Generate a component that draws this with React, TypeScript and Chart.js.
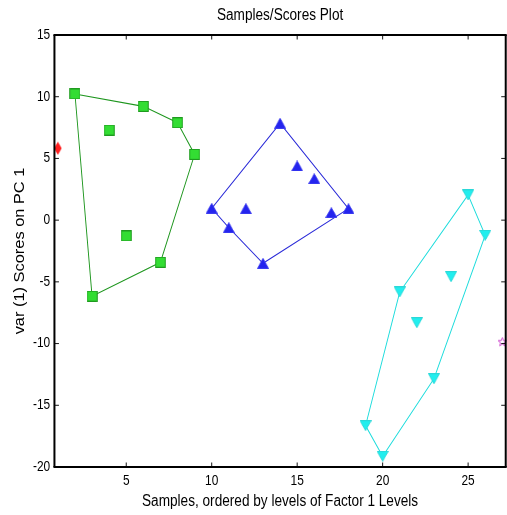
import React, { useEffect, useRef } from 'react';
import { Chart, registerables } from 'chart.js';

Chart.register(...registerables);

// The chart is laid out in a wider logical space and drawn squeezed
// horizontally onto the 507px canvas.
const LOGICAL_W = 596;
const OUT_W = 507;
const OUT_H = 515;
const SQUEEZE = OUT_W / LOGICAL_W;

// Scores on PC 1 per sample, grouped by class
const outlierX = [1];
const outlierY = [5.82];
const class1X = [2, 3, 4, 5, 6, 7, 8, 9];
const class1Y = [10.22, -6.16, 7.3, -1.28, 9.22, -3.41, 7.89, 5.33];
const class2X = [10, 11, 12, 13, 14, 15, 16, 17, 18];
const class2Y = [0.96, -0.61, 0.93, -3.5, 7.85, 4.39, 3.36, 0.61, 0.93];
const class3X = [19, 20, 21, 22, 23, 24, 25, 26];
const class3Y = [-16.65, -19.13, -5.82, -8.31, -12.85, -4.58, 2.04, -1.23];
const unknownX = [27];
const unknownY = [-9.85];

// Enclosing polygons, listed as sample numbers (closed)
const class1Hull = [2, 6, 8, 9, 7, 3, 2];
const class2Hull = [10, 14, 18, 13, 11, 10];
const class3Hull = [25, 26, 23, 20, 19, 21, 25];

const xTicks = [5, 10, 15, 20, 25];
const yTicks = [-20, -15, -10, -5, 0, 5, 10, 15];

const TITLE = 'Samples/Scores Plot';
const X_TITLE = 'Samples, ordered by levels of Factor 1 Levels';
const Y_TITLE = 'var (1) Scores on PC 1';

const FONT = 'Liberation Sans, Arial, sans-serif';

const toPoints = (xs: number[], ys: number[]) => xs.map((x, i) => ({ x, y: ys[i] }));
const hullPoints = (hull: number[], xs: number[], ys: number[]) =>
  hull.map((n) => {
    const i = xs.indexOf(n);
    return { x: xs[i], y: ys[i] };
  });

function makeMarker(w: number, h: number, draw: (c: CanvasRenderingContext2D) => void) {
  const cv = document.createElement('canvas');
  cv.width = w;
  cv.height = h;
  const c = cv.getContext('2d')!;
  draw(c);
  return cv;
}

// Applies the horizontal squeeze before every draw.
const squeezePlugin = {
  id: 'squeeze',
  beforeDraw(chart: any) {
    const cv = chart.canvas as HTMLCanvasElement;
    if (cv.width !== OUT_W) cv.width = OUT_W;
    if (cv.height !== OUT_H) cv.height = OUT_H;
    const ctx = chart.ctx as CanvasRenderingContext2D;
    ctx.setTransform(SQUEEZE, 0, 0, 1, 0, 0);
    ctx.save();
    ctx.fillStyle = '#fff';
    ctx.fillRect(0, 0, LOGICAL_W, OUT_H);
    ctx.restore();
  },
};

// Box frame with inward tick marks on all four sides.
const framePlugin = {
  id: 'boxFrame',
  afterDatasetsDraw(chart: any) {
    const { ctx, chartArea: a, scales } = chart;
    const tickLenX = 4.5 / SQUEEZE;
    const tickLenY = 4.5;
    ctx.save();
    ctx.strokeStyle = '#000';
    ctx.lineWidth = 1;
    ctx.beginPath();
    scales.x.ticks.forEach((t: any) => {
      const p = scales.x.getPixelForValue(t.value);
      ctx.moveTo(p, a.bottom);
      ctx.lineTo(p, a.bottom - tickLenY);
      ctx.moveTo(p, a.top);
      ctx.lineTo(p, a.top + tickLenY);
    });
    ctx.stroke();
    ctx.beginPath();
    scales.y.ticks.forEach((t: any) => {
      const p = scales.y.getPixelForValue(t.value);
      ctx.moveTo(a.left, p);
      ctx.lineTo(a.left + tickLenX, p);
      ctx.moveTo(a.right, p);
      ctx.lineTo(a.right - tickLenX, p);
    });
    ctx.stroke();
    // horizontal edges
    ctx.lineWidth = 2;
    ctx.beginPath();
    ctx.moveTo(a.left - 1 / SQUEEZE, a.top);
    ctx.lineTo(a.right + 1 / SQUEEZE, a.top);
    ctx.moveTo(a.left - 1 / SQUEEZE, a.bottom);
    ctx.lineTo(a.right + 1 / SQUEEZE, a.bottom);
    ctx.stroke();
    // vertical edges, widened to stay 2px after the squeeze
    ctx.lineWidth = 2 / SQUEEZE;
    ctx.beginPath();
    ctx.moveTo(a.left, a.top);
    ctx.lineTo(a.left, a.bottom);
    ctx.moveTo(a.right, a.top);
    ctx.lineTo(a.right, a.bottom);
    ctx.stroke();
    ctx.restore();
  },
};

export default function App() {
  const ref = useRef<HTMLCanvasElement>(null);

  useEffect(() => {
    const square = makeMarker(13, 11, (c) => {
      c.fillStyle = '#33dd33';
      c.strokeStyle = '#1f9a1f';
      c.lineWidth = 1;
      c.fillRect(0.75, 0.5, 11.5, 10);
      c.strokeRect(0.75, 0.5, 11.5, 10);
    });
    const triUp = makeMarker(14, 11, (c) => {
      c.fillStyle = '#2424ee';
      c.strokeStyle = '#3c3cf0';
      c.lineWidth = 1;
      c.beginPath();
      c.moveTo(7, 0.5);
      c.lineTo(13.5, 10.5);
      c.lineTo(0.5, 10.5);
      c.closePath();
      c.fill();
      c.stroke();
    });
    const triDown = makeMarker(14, 11, (c) => {
      c.fillStyle = '#22eeee';
      c.strokeStyle = '#2ad8d8';
      c.lineWidth = 1;
      c.beginPath();
      c.moveTo(0.5, 0.5);
      c.lineTo(13.5, 0.5);
      c.lineTo(7, 10.5);
      c.closePath();
      c.fill();
      c.stroke();
    });
    const diamond = makeMarker(10, 14, (c) => {
      c.fillStyle = '#ff2020';
      c.beginPath();
      c.moveTo(5, 0.5);
      c.lineTo(9.5, 7);
      c.lineTo(5, 13.5);
      c.lineTo(0.5, 7);
      c.closePath();
      c.fill();
    });
    const star = makeMarker(11, 10, (c) => {
      c.strokeStyle = '#cc44cc';
      c.lineWidth = 1;
      c.beginPath();
      const cx = 5.5, cy = 5.3, ro = 4.6, ri = 1.9;
      for (let k = 0; k < 10; k++) {
        const r = k % 2 === 0 ? ro : ri;
        const ang = -Math.PI / 2 + (k * Math.PI) / 5;
        const px = cx + r * Math.cos(ang) * 1.15;
        const py = cy + r * Math.sin(ang);
        if (k === 0) c.moveTo(px, py);
        else c.lineTo(px, py);
      }
      c.closePath();
      c.stroke();
    });

    // Markers are images; a tiny radius keeps Chart.js from reserving
    // overflow padding around the plot area.
    const markerSet = (data: any[], style: any) => ({
      type: 'scatter' as const,
      data,
      pointStyle: style,
      pointRadius: 0.5,
      pointHoverRadius: 0.5,
      pointBorderWidth: 0,
      showLine: false,
      clip: false,
      order: 0,
    });
    const hullSet = (data: any[], color: string) => ({
      type: 'scatter' as const,
      data,
      showLine: true,
      borderColor: color,
      borderWidth: 1.1,
      pointRadius: 0,
      pointHoverRadius: 0,
      pointBorderWidth: 0,
      order: 1,
    });

    const chart = new Chart(ref.current!, {
      type: 'scatter',
      data: {
        datasets: [
          markerSet(toPoints(outlierX, outlierY), diamond),
          markerSet(toPoints(class1X, class1Y), square),
          markerSet(toPoints(class2X, class2Y), triUp),
          markerSet(toPoints(class3X, class3Y), triDown),
          markerSet(toPoints(unknownX, unknownY), star),
          hullSet(hullPoints(class1Hull, class1X, class1Y), '#1e961e'),
          hullSet(hullPoints(class2Hull, class2X, class2Y), '#2a2ad8'),
          hullSet(hullPoints(class3Hull, class3X, class3Y), '#1cdcdc'),
        ] as any,
      },
      options: {
        animation: false,
        responsive: false,
        events: [],
        layout: { padding: { left: 0, right: 1.5, top: 0, bottom: 0 } },
        plugins: {
          legend: { display: false },
          tooltip: { enabled: false },
          title: {
            display: true,
            text: TITLE,
            fullSize: false,
            color: '#000',
            font: { family: FONT, size: 16, weight: 'normal' },
            padding: { top: 6.4, bottom: 9.4 },
          },
        },
        scales: {
          x: {
            type: 'linear',
            min: 0.8,
            max: 27.2,
            afterFit: (s: any) => {
              s.height = 48;
              s.paddingLeft = 0;
              s.paddingRight = 0;
            },
            afterBuildTicks: (s: any) => {
              s.ticks = xTicks.map((v) => ({ value: v }));
            },
            grid: { display: false, drawTicks: false },
            border: { display: false },
            ticks: {
              color: '#000',
              padding: 6,
              maxRotation: 0,
              font: { family: FONT, size: 14 },
            },
            title: {
              display: true,
              text: X_TITLE,
              color: '#000',
              font: { family: FONT, size: 16 },
              padding: { top: 0, bottom: 3.8 },
            },
          },
          y: {
            type: 'linear',
            min: -20,
            max: 15,
            afterFit: (s: any) => {
              s.width = 64;
              s.paddingTop = 0;
              s.paddingBottom = 0;
            },
            afterBuildTicks: (s: any) => {
              s.ticks = yTicks.map((v) => ({ value: v }));
            },
            grid: { display: false, drawTicks: false },
            border: { display: false },
            ticks: {
              color: '#000',
              padding: 5,
              font: { family: FONT, size: 14 },
            },
            title: {
              display: true,
              text: Y_TITLE,
              color: '#000',
              font: { family: FONT, size: 16.4 },
              padding: { top: 13.5, bottom: 0 },
            },
          },
        },
      },
      plugins: [squeezePlugin, framePlugin],
    });
    return () => chart.destroy();
  }, []);

  return (
    <div style={{ position: 'absolute', left: 0, top: 0, width: OUT_W, height: OUT_H, background: '#fff' }}>
      <canvas
        ref={ref}
        width={LOGICAL_W}
        height={OUT_H}
        style={{ display: 'block', width: OUT_W, height: OUT_H }}
      />
    </div>
  );
}
